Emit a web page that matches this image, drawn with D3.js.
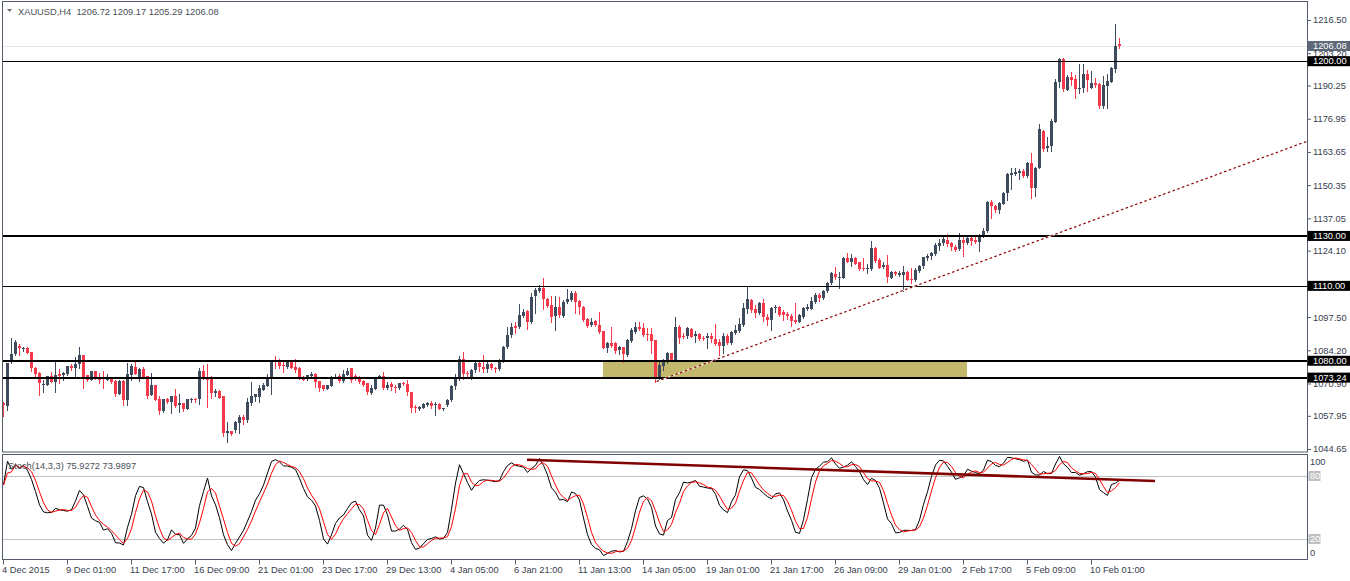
<!DOCTYPE html>
<html><head><meta charset="utf-8">
<script src="https://cdn.jsdelivr.net/npm/d3@7"></script>
<style>
html,body{margin:0;padding:0;background:#fff;}
svg{display:block;font-family:"Liberation Sans",Arial,sans-serif;}
</style></head><body>
<svg id="c" width="1350" height="581"></svg>
<script>
// ---------------- DATA ----------------
const headerText = "XAUUSD,H4  1206.72 1209.17 1205.29 1206.08";
const stochText = "Stoch(14,3,3) 75.9272 73.9897";

const opens = [
1062.9,1062.0,1079.3,1082.7,1085.9,1084.6,1085.2,1083.4,1077.2,1075.2,
1070.6,1070.3,1073.9,1071.6,1074.7,1074.3,1074.5,1077.9,1077.2,1078.5,
1082.3,1074.3,1072.3,1075.9,1073.6,1073.3,1072.5,1072.9,1072.0,1066.7,
1072.0,1064.4,1074.5,1077.6,1072.9,1076.5,1073.9,1066.3,1070.3,1064.7,
1060.0,1064.7,1063.3,1066.0,1062.3,1063.1,1060.7,1064.4,1064.7,1064.7,
1075.9,1073.2,1073.2,1067.2,1068.0,1065.9,1050.8,1051.8,1052.2,1055.2,
1057.6,1056.3,1063.2,1065.2,1065.6,1068.3,1070.0,1072.5,1080.0,1079.6,
1078.3,1077.6,1079.9,1077.6,1076.9,1073.6,1072.5,1074.0,1074.7,1071.9,
1070.3,1068.7,1070.0,1073.3,1074.0,1071.9,1074.3,1077.0,1074.0,1073.6,
1072.0,1070.9,1067.2,1068.9,1073.2,1074.0,1069.2,1070.5,1069.6,1068.9,
1070.9,1070.5,1067.3,1061.6,1060.7,1061.2,1062.3,1063.2,1062.5,1062.7,
1060.7,1062.3,1064.3,1069.6,1072.9,1080.7,1074.9,1073.3,1076.0,1078.9,
1077.6,1076.7,1078.6,1077.2,1076.7,1080.0,1085.4,1090.3,1094.0,1093.4,
1098.0,1100.1,1095.6,1105.7,1107.9,1109.0,1104.7,1102.3,1097.6,1101.4,
1098.0,1103.4,1104.3,1107.3,1103.9,1101.7,1096.7,1094.3,1095.9,1094.3,
1091.9,1085.2,1087.2,1087.2,1084.3,1085.4,1082.3,1088.0,1091.6,1093.4,
1093.0,1090.7,1090.7,1088.3,1072.9,1078.0,1079.6,1083.0,1080.3,1093.6,
1089.9,1089.6,1092.7,1089.6,1090.7,1089.2,1089.0,1089.9,1088.7,1087.6,
1086.0,1089.9,1087.0,1091.0,1091.9,1094.3,1100.7,1104.3,1100.7,1099.0,
1103.0,1097.6,1096.3,1101.0,1101.7,1099.4,1098.6,1098.1,1096.3,1095.6,
1097.6,1101.0,1100.7,1103.4,1106.3,1105.0,1107.9,1111.0,1114.6,1113.4,
1113.4,1121.3,1119.7,1121.3,1119.4,1117.3,1117.0,1116.7,1125.3,1120.4,
1117.3,1118.3,1113.4,1115.7,1114.3,1114.3,1115.7,1112.6,1112.3,1116.1,
1117.7,1121.0,1121.7,1122.6,1126.0,1126.9,1128.4,1127.0,1125.7,1124.6,
1128.4,1127.3,1129.3,1128.4,1127.7,1130.1,1132.0,1143.7,1142.1,1140.4,
1143.0,1147.1,1154.4,1154.8,1155.1,1156.1,1154.0,1159.3,1149.3,1157.3,
1172.0,1165.1,1165.8,1175.8,1191.5,1200.9,1188.7,1193.8,1192.9,1188.9,
1189.1,1194.9,1189.4,1191.4,1190.9,1182.2,1190.2,1191.8,1197.1,1206.72
];
const highs = [
1063.6,1079.3,1089.0,1088.2,1086.7,1085.6,1085.5,1083.6,1077.3,1075.3,
1072.3,1074.0,1075.5,1079.9,1076.7,1075.3,1078.0,1078.8,1081.5,1085.4,
1082.4,1074.4,1076.0,1076.0,1075.2,1075.9,1074.5,1073.0,1072.1,1072.1,
1072.1,1079.2,1078.5,1079.6,1077.2,1077.5,1074.0,1075.2,1070.4,1065.9,
1064.8,1065.2,1066.0,1068.7,1066.5,1063.2,1064.8,1065.0,1065.0,1076.9,
1078.3,1078.7,1074.0,1068.7,1068.1,1066.0,1055.3,1051.9,1055.8,1058.2,
1058.3,1065.2,1071.6,1066.6,1070.3,1071.2,1074.5,1080.2,1081.9,1080.7,
1079.9,1080.2,1080.3,1080.7,1077.5,1073.7,1074.4,1075.3,1074.9,1072.0,
1070.4,1070.4,1073.7,1074.8,1074.5,1076.3,1077.0,1077.1,1074.7,1073.7,
1072.1,1071.0,1070.3,1073.6,1074.3,1075.6,1071.6,1071.6,1070.3,1071.0,
1071.6,1072.3,1067.4,1062.3,1062.0,1062.9,1063.6,1064.0,1063.6,1062.9,
1061.0,1064.7,1070.3,1074.5,1081.9,1083.6,1076.0,1076.8,1079.5,1079.4,
1082.3,1079.6,1079.0,1077.6,1080.9,1085.9,1093.4,1095.0,1095.4,1102.7,
1100.6,1100.3,1107.0,1109.0,1110.3,1113.0,1105.0,1105.9,1105.9,1105.4,
1104.3,1108.7,1108.1,1108.1,1104.3,1101.9,1097.0,1097.0,1096.3,1099.4,
1092.0,1087.6,1093.6,1087.6,1085.9,1085.6,1088.7,1093.0,1095.6,1095.4,
1095.2,1093.0,1093.0,1088.4,1080.3,1080.6,1083.6,1083.2,1097.4,1094.3,
1091.0,1093.4,1093.0,1091.9,1091.0,1090.0,1091.0,1091.0,1094.8,1088.9,
1091.0,1090.6,1091.9,1094.3,1097.0,1103.0,1109.7,1104.7,1102.3,1103.7,
1104.7,1098.6,1101.7,1102.3,1102.1,1100.3,1099.4,1098.6,1103.0,1098.6,
1101.7,1102.6,1105.7,1107.0,1107.0,1108.3,1111.7,1115.4,1117.7,1115.4,
1121.7,1123.0,1122.6,1121.7,1119.7,1121.0,1118.6,1128.0,1125.7,1121.0,
1119.7,1122.4,1115.9,1115.9,1115.9,1118.1,1115.9,1117.0,1117.0,1118.3,
1121.7,1122.6,1123.7,1127.0,1128.8,1130.0,1130.8,1127.4,1126.4,1131.0,
1130.1,1130.1,1129.7,1129.7,1130.8,1133.0,1144.0,1144.4,1142.4,1143.7,
1147.7,1155.1,1157.1,1157.3,1156.8,1156.8,1159.7,1163.4,1157.7,1174.7,
1172.4,1169.8,1176.8,1192.9,1201.1,1201.1,1194.5,1195.8,1194.5,1198.9,
1198.9,1196.5,1196.1,1193.4,1191.1,1194.1,1194.9,1197.8,1214.8,1209.17
];
const lows = [
1058.0,1060.3,1079.2,1082.5,1082.3,1084.0,1083.0,1076.0,1073.2,1066.3,
1067.6,1070.1,1071.4,1067.6,1071.2,1072.3,1074.3,1076.3,1073.2,1076.9,
1069.2,1072.0,1072.1,1072.7,1071.2,1069.2,1072.3,1071.0,1065.9,1066.5,
1062.3,1062.3,1072.3,1074.6,1071.9,1073.1,1065.2,1066.1,1064.1,1058.6,
1059.6,1062.9,1059.0,1061.6,1059.3,1059.9,1060.5,1063.6,1063.6,1062.8,
1072.5,1061.6,1065.2,1065.9,1065.0,1049.8,1047.6,1050.1,1051.6,1050.9,
1054.5,1055.3,1062.3,1063.9,1063.6,1068.2,1069.9,1066.8,1077.2,1076.9,
1075.6,1076.9,1077.0,1075.6,1072.5,1072.3,1072.3,1072.9,1069.6,1067.9,
1068.3,1068.5,1069.9,1072.9,1071.6,1071.6,1074.2,1071.6,1072.3,1070.9,
1070.0,1066.7,1066.7,1068.8,1072.9,1068.7,1068.5,1068.3,1067.3,1068.8,
1070.2,1066.3,1059.6,1059.3,1060.3,1060.9,1062.0,1061.2,1058.3,1060.5,
1060.3,1062.0,1063.9,1068.5,1072.3,1072.5,1073.3,1072.5,1075.6,1076.0,
1075.6,1075.6,1076.7,1075.6,1076.3,1079.6,1085.0,1089.6,1091.0,1093.0,
1097.6,1092.6,1095.2,1099.3,1107.7,1100.7,1101.7,1095.6,1092.3,1097.6,
1097.6,1103.0,1104.1,1099.0,1098.7,1096.0,1093.6,1093.9,1093.9,1091.2,
1085.0,1083.6,1085.6,1083.2,1082.9,1079.6,1081.9,1087.6,1091.2,1092.3,
1090.0,1088.3,1083.0,1071.3,1072.5,1076.3,1079.2,1080.0,1080.0,1087.0,
1089.0,1089.0,1089.4,1087.4,1088.3,1088.3,1085.2,1087.4,1086.3,1082.3,
1083.2,1086.8,1086.6,1090.6,1091.6,1094.0,1099.0,1099.4,1097.6,1098.6,
1095.9,1094.3,1092.3,1099.4,1098.1,1096.3,1096.7,1094.0,1095.0,1095.4,
1097.2,1100.3,1100.7,1103.0,1103.9,1104.7,1107.7,1110.6,1112.7,1109.3,
1113.0,1119.4,1118.1,1118.6,1116.3,1116.3,1115.0,1116.3,1119.4,1117.0,
1117.0,1111.4,1113.0,1114.3,1114.1,1107.9,1112.3,1111.0,1111.9,1115.7,
1117.3,1120.4,1120.6,1122.4,1124.4,1126.4,1126.1,1124.4,1123.9,1124.2,
1122.1,1126.6,1126.4,1127.0,1124.1,1129.7,1131.7,1137.0,1139.4,1139.2,
1142.6,1144.4,1148.8,1154.4,1152.7,1153.7,1153.7,1145.1,1146.0,1157.1,
1164.0,1164.0,1164.0,1175.5,1189.8,1188.1,1188.5,1190.5,1185.4,1187.1,
1187.5,1188.1,1189.1,1189.8,1181.1,1181.4,1181.4,1191.5,1195.8,1205.29
];
const closes = [
1062.0,1079.3,1082.7,1087.6,1085.0,1085.2,1083.2,1076.9,1074.7,1071.2,
1070.7,1073.9,1071.6,1074.3,1073.9,1075.2,1077.9,1076.9,1078.7,1082.3,
1073.6,1072.3,1075.9,1072.9,1072.3,1072.8,1073.6,1071.2,1066.7,1072.0,
1064.3,1074.7,1078.0,1074.8,1076.5,1073.3,1066.0,1070.3,1064.3,1060.0,
1064.7,1063.3,1065.9,1062.0,1063.1,1060.7,1064.7,1064.7,1064.3,1075.9,
1072.7,1072.5,1067.2,1068.0,1065.3,1050.9,1051.8,1050.5,1055.3,1057.5,
1056.3,1063.6,1065.9,1066.5,1069.2,1070.3,1073.2,1079.9,1079.4,1078.0,
1077.9,1079.6,1077.2,1076.5,1073.2,1072.5,1074.3,1074.7,1071.6,1069.2,
1068.7,1070.3,1073.6,1073.6,1071.9,1074.7,1075.9,1072.3,1073.2,1071.6,
1070.5,1067.2,1069.2,1073.2,1074.0,1069.2,1070.3,1069.2,1069.2,1070.9,
1070.3,1067.3,1060.9,1061.2,1061.6,1062.7,1063.2,1062.0,1062.7,1060.7,
1060.9,1064.3,1070.0,1073.0,1080.7,1074.7,1074.3,1076.3,1078.9,1077.2,
1076.8,1078.6,1077.1,1076.8,1080.3,1085.4,1090.3,1093.4,1093.2,1098.3,
1099.7,1095.6,1105.7,1108.3,1109.0,1104.6,1101.9,1097.6,1101.4,1098.0,
1103.7,1104.7,1107.3,1103.7,1101.4,1096.6,1093.9,1095.6,1094.3,1091.6,
1085.2,1087.2,1086.0,1084.0,1085.6,1082.7,1088.3,1092.3,1093.6,1092.7,
1090.3,1090.3,1088.0,1072.9,1078.3,1080.0,1083.0,1080.3,1093.6,1089.0,
1089.4,1093.0,1089.6,1090.6,1088.7,1089.0,1089.9,1088.7,1086.7,1086.0,
1089.9,1087.2,1091.4,1092.3,1094.7,1101.0,1104.7,1100.1,1099.0,1103.0,
1097.2,1096.3,1101.3,1101.4,1098.6,1098.1,1097.6,1095.9,1095.4,1098.3,
1101.3,1101.7,1103.9,1106.3,1105.0,1107.9,1111.0,1115.0,1113.4,1113.7,
1121.3,1119.7,1121.3,1119.0,1116.7,1116.7,1117.3,1125.3,1120.0,1117.3,
1118.3,1113.3,1115.7,1115.0,1115.0,1115.7,1112.6,1112.3,1116.3,1118.0,
1121.4,1122.0,1123.0,1126.4,1127.3,1128.6,1126.6,1125.3,1124.6,1128.4,
1127.3,1129.3,1128.0,1127.7,1130.1,1132.0,1143.7,1142.1,1140.4,1143.3,
1147.3,1154.8,1155.3,1155.7,1156.1,1154.0,1159.3,1149.3,1157.3,1172.8,
1164.7,1166.0,1176.0,1191.8,1200.9,1188.7,1193.8,1192.7,1188.9,1189.4,
1194.9,1192.5,1191.4,1190.7,1182.2,1190.5,1192.2,1197.4,1206.2,1206.08
];

const dateLabels = ["4 Dec 2015","9 Dec 01:00","11 Dec 17:00","16 Dec 09:00","21 Dec 01:00",
  "23 Dec 17:00","29 Dec 13:00","4 Jan 05:00","6 Jan 21:00","11 Jan 13:00","14 Jan 05:00",
  "19 Jan 01:00","21 Jan 17:00","26 Jan 09:00","29 Jan 01:00","2 Feb 17:00","5 Feb 09:00","10 Feb 01:00"];
const dateLabelBars = [0,16,32,48,64,80,96,112,128,144,160,176,192,208,224,240,256,272];

const priceTicks = [1216.50,1203.20,1190.25,1176.95,1163.65,1150.35,1137.05,1124.10,1097.50,1084.20,1070.90,1057.95,1044.65];
const levelPrices = [1200.00, 1130.00, 1110.00, 1080.00, 1073.24];
const levelWidths = [1, 2, 1, 2, 2];
const bidPrice = 1206.08;
const zoneBars = [150, 241];
const zonePrices = [1080.00, 1073.24];
const trendBars = [163.4, 231];
const trendPrices = [1071.7, 1111.7];
const stochTrendBars = [131, 288];
const stochTrendValues = [95.5, 75.2];
const stochLevels = [80, 20];
const stochAxisLabels = [100, 80, 20, 0];
const stochParams = {k:14, d:3, slowing:3};

// ---------------- LAYOUT ----------------
const W = 1350, H = 581;
const left = 3, right = 1307;
const mainTop = 1.5, mainBottom = 452;
const subTop = 454.5, subBottom = 559.5;
const bullCol = "#3e4b5d", bearCol = "#f43a4a";
const frameCol = "#525c6a", textCol = "#36404f";
const fs = "9.3px";

const n = closes.length;
const x = d3.scaleLinear().domain([0, n - 1]).range([3, 3 + 4 * (n - 1)]);
const y = d3.scaleLinear().domain([1044.65, 1216.5]).range([449, 20]);
const ys = d3.scaleLinear().domain([0, 100]).range([560, 455]);

const svg = d3.select("#c");
const defs = svg.append("defs");
defs.append("clipPath").attr("id","clipMain").append("rect")
  .attr("x", left).attr("y", mainTop).attr("width", right - left).attr("height", mainBottom - mainTop);
defs.append("clipPath").attr("id","clipSub").append("rect")
  .attr("x", left).attr("y", subTop).attr("width", right - left).attr("height", subBottom - subTop);

svg.append("rect").attr("width", W).attr("height", H).attr("fill", "#fff");

const gMain = svg.append("g").attr("clip-path","url(#clipMain)");

// bid line
gMain.append("line").attr("x1", left).attr("x2", right)
  .attr("y1", Math.round(y(bidPrice)) + 0.5).attr("y2", Math.round(y(bidPrice)) + 0.5)
  .attr("stroke", "#e6e6e6").attr("stroke-width", 1);

// zone rectangle (background)
gMain.append("rect")
  .attr("x", x(zoneBars[0])).attr("width", x(zoneBars[1]) - x(zoneBars[0]))
  .attr("y", y(zonePrices[0])).attr("height", y(zonePrices[1]) - y(zonePrices[0]))
  .attr("fill", "#c2b96c");

// candles
const idx = d3.range(n);
const cg = gMain.append("g").attr("shape-rendering","crispEdges");
cg.selectAll("line.w").data(idx).join("line").attr("class","w")
  .attr("x1", i => x(i) + 0.5).attr("x2", i => x(i) + 0.5)
  .attr("y1", i => Math.round(y(highs[i]))).attr("y2", i => Math.round(y(lows[i])) + 1)
  .attr("stroke", i => closes[i] >= opens[i] ? bullCol : bearCol).attr("stroke-width", 1);
cg.selectAll("rect.b").data(idx).join("rect").attr("class","b")
  .attr("x", i => x(i) - 1).attr("width", 3)
  .attr("y", i => Math.round(y(Math.max(opens[i], closes[i]))))
  .attr("height", i => Math.max(1, Math.round(Math.abs(y(opens[i]) - y(closes[i])))))
  .attr("fill", i => closes[i] >= opens[i] ? bullCol : bearCol);

// horizontal levels
levelPrices.forEach((p, k) => {
  const w = levelWidths[k];
  const yy = w === 1 ? Math.round(y(p)) + 0.5 : Math.round(y(p));
  gMain.append("line").attr("x1", left).attr("x2", right).attr("y1", yy).attr("y2", yy)
    .attr("stroke", "#000").attr("stroke-width", w);
});

// dotted trend line (ray to right edge)
const slope = (trendPrices[1] - trendPrices[0]) / (trendBars[1] - trendBars[0]);
const endBar = x.invert(right);
const tl = [[trendBars[0], trendPrices[0]], [endBar, trendPrices[0] + slope * (endBar - trendBars[0])]];
gMain.append("line").attr("x1", x(tl[0][0])).attr("y1", y(tl[0][1])).attr("x2", x(tl[1][0])).attr("y2", y(tl[1][1]))
  .attr("stroke", "#fff").attr("stroke-width", 1.2);
gMain.append("line").attr("x1", x(tl[0][0])).attr("y1", y(tl[0][1])).attr("x2", x(tl[1][0])).attr("y2", y(tl[1][1]))
  .attr("stroke", "#8b0000").attr("stroke-width", 1.2).attr("stroke-dasharray", "2.5,2.5");

// ---------------- STOCHASTIC ----------------
const num = [], den = [], K = [], D = [];
for (let i = 0; i < n; i++) {
  const s = Math.max(0, i - stochParams.k + 1);
  const hh = d3.max(highs.slice(s, i + 1)), ll = d3.min(lows.slice(s, i + 1));
  num.push(closes[i] - ll); den.push(hh - ll);
}
for (let i = 0; i < n; i++) {
  const s = Math.max(0, i - stochParams.slowing + 1);
  const a = d3.sum(num.slice(s, i + 1)), b = d3.sum(den.slice(s, i + 1));
  K.push(b > 0 ? 100 * a / b : 50);
}
for (let i = 0; i < n; i++) {
  const s = Math.max(0, i - stochParams.d + 1);
  D.push(d3.mean(K.slice(s, i + 1)));
}

const gSub = svg.append("g").attr("clip-path","url(#clipSub)");
stochLevels.forEach(v => {
  gSub.append("line").attr("x1", left).attr("x2", right)
    .attr("y1", Math.round(ys(v)) + 0.5).attr("y2", Math.round(ys(v)) + 0.5)
    .attr("stroke", "#c0c0c0").attr("stroke-width", 1);
});
const line = arr => d3.line().x((d, i) => x(i) + 0.5).y(d => ys(d))(arr);
gSub.append("path").attr("d", line(K)).attr("fill","none").attr("stroke","#000").attr("stroke-width",1);
gSub.append("path").attr("d", line(D)).attr("fill","none").attr("stroke","#ff0000").attr("stroke-width",1);
gSub.append("line")
  .attr("x1", x(stochTrendBars[0])).attr("y1", ys(stochTrendValues[0]))
  .attr("x2", x(stochTrendBars[1])).attr("y2", ys(stochTrendValues[1]))
  .attr("stroke", "#800000").attr("stroke-width", 2.6);

// ---------------- FRAMES ----------------
svg.append("rect").attr("x", 2.5).attr("y", mainTop).attr("width", right + 0.5 - 2.5).attr("height", mainBottom - mainTop)
  .attr("fill","none").attr("stroke", frameCol).attr("stroke-width",1);
svg.append("rect").attr("x", 2.5).attr("y", subTop).attr("width", right + 0.5 - 2.5).attr("height", subBottom - subTop)
  .attr("fill","none").attr("stroke", frameCol).attr("stroke-width",1);

// ---------------- PRICE AXIS ----------------
const axisG = svg.append("g").attr("transform", `translate(${right},0)`)
  .call(d3.axisRight(y).tickValues(priceTicks).tickFormat(d3.format(".2f")).tickSize(4).tickSizeOuter(0));
axisG.select(".domain").remove();
axisG.selectAll(".tick line").attr("stroke", frameCol);
axisG.selectAll(".tick text").attr("fill", textCol).attr("font-size", fs)
  .attr("font-family", '"Liberation Sans",Arial,sans-serif').attr("x", 6);

// highlighted labels
const hl = [{p: bidPrice, bg: "#5d6878"}].concat(levelPrices.map(p => ({p, bg: "#000"})));
hl.forEach(d => {
  const yy = y(d.p);
  svg.append("rect").attr("x", right + 0.5).attr("y", yy - 5).attr("width", W - right).attr("height", 10).attr("fill", d.bg);
  svg.append("text").attr("x", right + 6).attr("y", yy).attr("dy", "0.34em")
    .attr("fill", "#fff").attr("font-size", fs).text(d3.format(".2f")(d.p));
});

// stoch axis labels
stochAxisLabels.forEach(v => {
  let yy = ys(v);
  if (v === 100) yy += 7;
  if (v === 0) yy -= 7;
  const boxed = stochLevels.includes(v);
  if (boxed) svg.append("rect").attr("x", right + 1.5).attr("y", yy - 5).attr("width", 12).attr("height", 10).attr("fill", "#c0c0c0");
  svg.append("text").attr("x", right + 3).attr("y", yy).attr("dy", "0.34em")
    .attr("fill", boxed ? "#fff" : textCol).attr("font-size", fs).text(v);
});

// ---------------- TIME AXIS ----------------
const tg = svg.append("g");
tg.selectAll("line").data(dateLabelBars).join("line")
  .attr("x1", b => Math.round(x(b)) + 0.5).attr("x2", b => Math.round(x(b)) + 0.5)
  .attr("y1", subBottom).attr("y2", subBottom + 5).attr("stroke", frameCol);
tg.selectAll("text").data(dateLabels).join("text")
  .attr("x", (t, k) => x(dateLabelBars[k]) - 1).attr("y", 573)
  .attr("fill", textCol).attr("font-size", fs).text(t => t);

// ---------------- HEADERS ----------------
svg.append("path").attr("d", "M7,9 L12,9 L9.5,12 Z").attr("fill", "#6a6a6a");
svg.append("text").attr("x", 18).attr("y", 14.5).attr("fill", "#4a4f57").attr("font-size", fs)
  .style("white-space","pre").text(headerText);
svg.append("text").attr("x", 8).attr("y", 469).attr("fill", "#4a4f57").attr("font-size", fs)
  .text(stochText);
</script>
</body></html>
